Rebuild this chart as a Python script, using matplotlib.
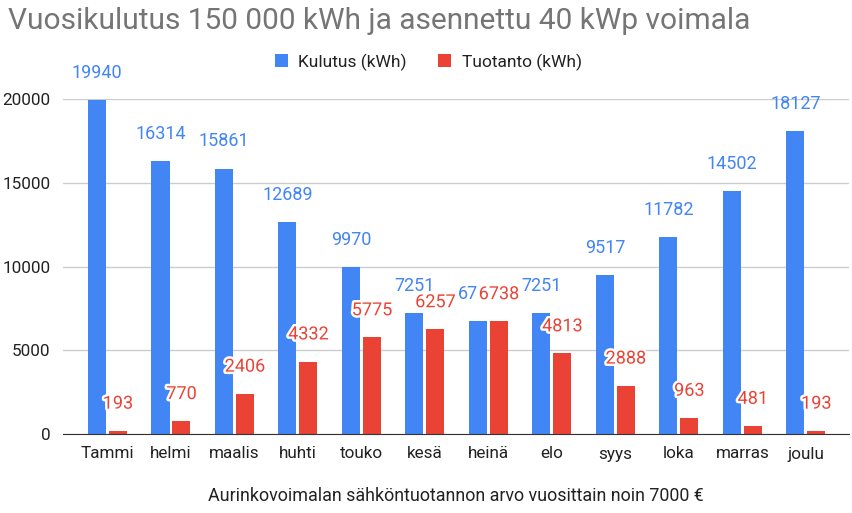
import matplotlib
matplotlib.use("Agg")
import matplotlib.pyplot as plt
import matplotlib.patheffects as pe
import numpy as np

plt.rcParams["font.family"] = ["Roboto", "DejaVu Sans"]

months = ["Tammi", "helmi", "maalis", "huhti", "touko", "kesä",
          "heinä", "elo", "syys", "loka", "marras", "joulu"]
kulutus = [19940, 16314, 15861, 12689, 9970, 7251, 6738, 7251, 9517, 11782, 14502, 18127]
tuotanto = [193, 770, 2406, 4332, 5775, 6257, 6738, 4813, 2888, 963, 481, 193]
yticks = [0, 5000, 10000, 15000, 20000]

BLUE = "#4285F4"
RED = "#EA4335"
TEXT = "#222222"
GREY = "#757575"

fig = plt.figure(figsize=(8.53, 5.13), dpi=100)
ax = fig.add_axes([63 / 853, 79 / 513, 786 / 853, 334.7 / 513])

x = np.arange(len(months))
w = 0.285
off = 0.165
bb = ax.bar(x - off, kulutus, w, color=BLUE, zorder=2, label="Kulutus (kWh)")
rb = ax.bar(x + off, tuotanto, w, color=RED, zorder=2, label="Tuotanto (kWh)")

ax.set_xlim(-0.70, 11.68)
ax.set_ylim(0, 20000)
ax.set_yticks(yticks)
ax.set_xticks(x)
ax.set_xticklabels(months)
ax.tick_params(length=0, labelsize=12.3, colors=TEXT, pad=9)
ax.tick_params(axis="x", pad=9)
ax.grid(axis="y", color="#cccccc", lw=1, zorder=0)
for s in ["top", "right", "left"]:
    ax.spines[s].set_visible(False)
ax.spines["bottom"].set_color("#333333")
ax.spines["bottom"].set_zorder(3)

# blue value labels (heinä label is cut short in the original, keep only its left half)
for i, (xi, v) in enumerate(zip(x, kulutus)):
    t, ha = str(v), "center"
    if i == 6:
        t, ha = t[:2], "right"
    ax.annotate(t, (xi - off, v), xytext=(0, 19.5), textcoords="offset points",
                ha=ha, va="center", fontsize=13, color=BLUE,
                annotation_clip=False, zorder=4)
for xi, v in zip(x, tuotanto):
    ax.annotate(str(v), (xi + off, v), xytext=(0, 19.5), textcoords="offset points",
                ha="center", va="center", fontsize=13, color=RED,
                annotation_clip=False, zorder=5,
                path_effects=[pe.withStroke(linewidth=3.5, foreground="white")])

fig.text(8 / 853, 1 - 21 / 513, "Vuosikulutus 150 000 kWh ja asennettu 40 kWp voimala",
         fontsize=21.5, color=GREY, ha="left", va="center")
fig.text(456 / 853, 1 - 496 / 513, "Aurinkovoimalan sähköntuotannon arvo vuosittain noin 7000 €",
         fontsize=12.9, color=TEXT, ha="center", va="center")

fig.legend(handles=[bb, rb], loc="center", bbox_to_anchor=(0.502, 1 - 62 / 513),
           ncol=2, frameon=False, fontsize=12.5, handlelength=0.75, handleheight=0.75,
           handletextpad=0.6, columnspacing=1.8, labelcolor=TEXT)

fig.savefig("out.png", dpi=100)
